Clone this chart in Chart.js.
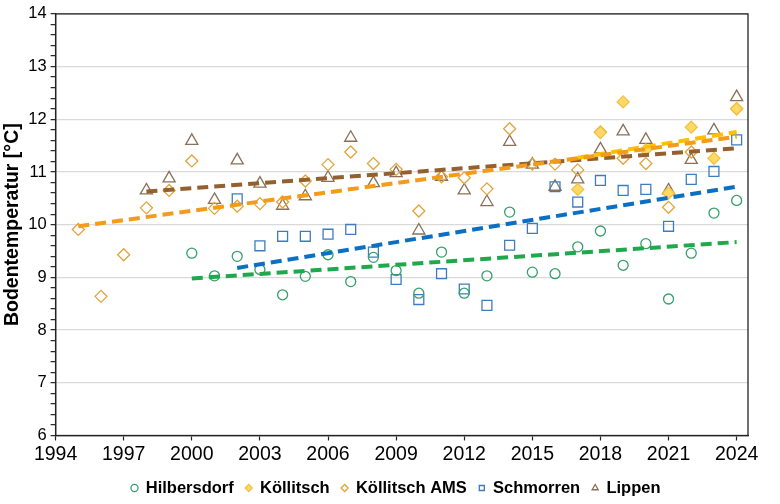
<!DOCTYPE html>
<html><head><meta charset="utf-8">
<script src="https://cdn.jsdelivr.net/npm/chart.js@4.4.1/dist/chart.umd.min.js"></script>
<style>html,body{margin:0;padding:0;background:#fff;}#wrap{width:780px;height:504px;}</style>
</head><body><div id="wrap"><canvas id="c" width="780" height="504" style="width:780px;height:504px"></canvas></div>
<script>
const xTicks = [1994,1997,2000,2003,2006,2009,2012,2015,2018,2021,2024];

const yearsHilbersdorf = [2000,2001,2002,2003,2004,2005,2006,2007,2008,2009,2010,2011,2012,2013,2014,2015,2016,2017,2018,2019,2020,2021,2022,2023,2024];
const valuesHilbersdorf = [9.46,9.03,9.40,9.15,8.67,9.02,9.43,8.92,9.38,9.13,8.70,9.48,8.70,9.03,10.24,9.10,9.07,9.58,9.88,9.23,9.64,8.59,9.46,10.22,10.46];

const yearsKoellitsch = [2017,2018,2019,2020,2021,2022,2023,2024];
const valuesKoellitsch = [10.67,11.75,12.33,11.42,10.60,11.85,11.26,12.20];

const yearsKoellitschAMS = [1995,1996,1997,1998,1999,2000,2001,2002,2003,2004,2005,2006,2007,2008,2009,2010,2011,2012,2013,2014,2015,2016,2017,2018,2019,2020,2021,2022,2024];
const valuesKoellitschAMS = [9.91,8.64,9.43,10.32,10.65,11.21,10.31,10.35,10.40,10.43,10.83,11.14,11.38,11.16,11.05,10.26,10.91,10.89,10.68,11.82,11.15,11.15,11.04,11.76,11.26,11.16,10.33,11.38,12.20];

const yearsSchmorren = [2002,2003,2004,2005,2006,2007,2008,2009,2010,2011,2012,2013,2014,2015,2016,2017,2018,2019,2020,2021,2022,2023,2024];
const valuesSchmorren = [10.49,9.60,9.78,9.78,9.82,9.91,9.48,8.96,8.58,9.07,8.78,8.47,9.61,9.93,10.72,10.43,10.84,10.65,10.67,9.97,10.86,11.01,11.61];

const yearsLippen = [1998,1999,2000,2001,2002,2003,2004,2005,2006,2007,2008,2009,2010,2011,2012,2013,2014,2015,2016,2017,2018,2019,2020,2021,2022,2023,2024];
const valuesLippen = [10.65,10.88,11.59,10.47,11.22,10.78,10.36,10.54,10.89,11.65,10.79,10.98,9.89,10.91,10.65,10.43,11.57,11.14,10.72,10.86,11.43,11.77,11.61,10.65,11.23,11.79,12.42];

// trend line end points: [startYear, startValue, endYear, endValue]
const trendHilbersdorf = [2000, 8.98, 2024, 9.67];
const trendKoellitsch = [2017, 11.27, 2024, 11.76];
const trendKoellitschAMS = [1995, 9.97, 2024, 11.67];
const trendSchmorren = [2002, 9.18, 2024, 10.72];
const trendLippen = [1998, 10.63, 2024, 11.45];

const pts = (xs, ys) => xs.map((x, i) => ({x: x, y: ys[i]}));
const tr = t => [{x: t[0], y: t[1]}, {x: t[2], y: t[3]}];

const narrow = "'Liberation Sans Narrow', 'Arial Narrow', 'Liberation Sans', Arial, sans-serif";
const sans = "'Liberation Sans', Arial, sans-serif";

const marker = (label, data, style, border, fill, r) => ({
  type: 'scatter', label, data, pointStyle: style, borderColor: border, backgroundColor: fill,
  pointRadius: r, pointHoverRadius: r, borderWidth: 1.3, order: 2
});
const trend = (data, color) => ({
  type: 'line', label: '', data, borderColor: color, backgroundColor: color, borderWidth: 4,
  borderDash: [11, 6], pointRadius: 0, fill: false, order: 1, showLine: true
});

const frame = {
  id: 'frame',
  afterLayout(chart) {
    const l = chart.legend;
    if (l) { const d = 396 - (l.left + l.right) / 2; l.left += d; l.right += d; }
  },
  afterDraw(chart) {
    const a = chart.chartArea, ctx = chart.ctx;
    ctx.save();
    ctx.strokeStyle = '#222';
    ctx.lineWidth = 1.3;
    ctx.strokeRect(a.left, a.top, a.right - a.left, a.bottom - a.top);
    ctx.restore();
  }
};

const isInt = v => Math.abs(v - Math.round(v)) < 1e-6;

new Chart(document.getElementById('c'), {
  type: 'scatter',
  data: {
    datasets: [
      marker('Hilbersdorf', pts(yearsHilbersdorf, valuesHilbersdorf), 'circle', '#35a06a', 'rgba(0,0,0,0)', 5),
      marker('Köllitsch', pts(yearsKoellitsch, valuesKoellitsch), 'rectRot', '#f3c243', '#ffd966', 6),
      marker('Köllitsch AMS', pts(yearsKoellitschAMS, valuesKoellitschAMS), 'rectRot', '#e2a43c', 'rgba(0,0,0,0)', 6),
      marker('Schmorren', pts(yearsSchmorren, valuesSchmorren), 'rect', '#3d7dbf', 'rgba(0,0,0,0)', 7),
      marker('Lippen', pts(yearsLippen, valuesLippen), 'triangle', '#8a7058', 'rgba(0,0,0,0)', 7),
      trend(tr(trendHilbersdorf), '#1fa84c'),
      trend(tr(trendKoellitschAMS), '#f39c1a'),
      trend(tr(trendKoellitsch), '#ffc000'),
      trend(tr(trendSchmorren), '#0b6fc2'),
      trend(tr(trendLippen), '#94602f')
    ]
  },
  options: {
    responsive: false,
    animation: false,
    devicePixelRatio: 1,
    layout: {padding: {left: 0, top: 6.5, right: 32, bottom: 0}},
    plugins: {
      tooltip: {enabled: false},
      legend: {
        position: 'bottom',
        maxHeight: 36.25,
        labels: {
          filter: item => item.datasetIndex < 5,
          usePointStyle: true,
          boxWidth: 6,
          boxHeight: 5,
          padding: 12,
          color: '#000',
          font: {family: sans, size: 16.5, weight: 'bold'}
        }
      }
    },
    scales: {
      x: {
        type: 'linear',
        min: 1994,
        max: 2024.5,
        afterBuildTicks: s => { s.ticks = xTicks.map(v => ({value: v})); },
        afterFit: s => { s.height = 32.25; },
        ticks: {autoSkip: false, maxRotation: 0, color: '#000', padding: 2,
          font: {family: narrow, size: 19.5}, callback: v => String(v)},
        grid: {drawOnChartArea: false, drawTicks: true, tickLength: 5, tickColor: '#222', tickWidth: 1.2},
        border: {color: '#222', width: 1.3}
      },
      y: {
        min: 6,
        max: 14,
        afterFit: s => { s.width = 55.6; },
        ticks: {stepSize: 0.2, autoSkip: false, color: '#000', padding: 4,
          font: {family: sans, size: 16.5},
          callback: v => isInt(v) ? String(Math.round(v)) : ''},
        grid: {
          color: c => (c.tick && isInt(c.tick.value)) ? '#d9d9d9' : 'rgba(0,0,0,0)',
          lineWidth: 1.3,
          tickColor: '#222', tickLength: 5, tickWidth: 1.2
        },
        border: {color: '#222', width: 1.3},
        title: {display: true, text: 'Bodentemperatur [°C]', color: '#000',
          font: {family: sans, size: 19.5, weight: 'bold'}, padding: {top: 1, bottom: 0}}
      }
    }
  },
  plugins: [frame]
});
</script></body></html>
